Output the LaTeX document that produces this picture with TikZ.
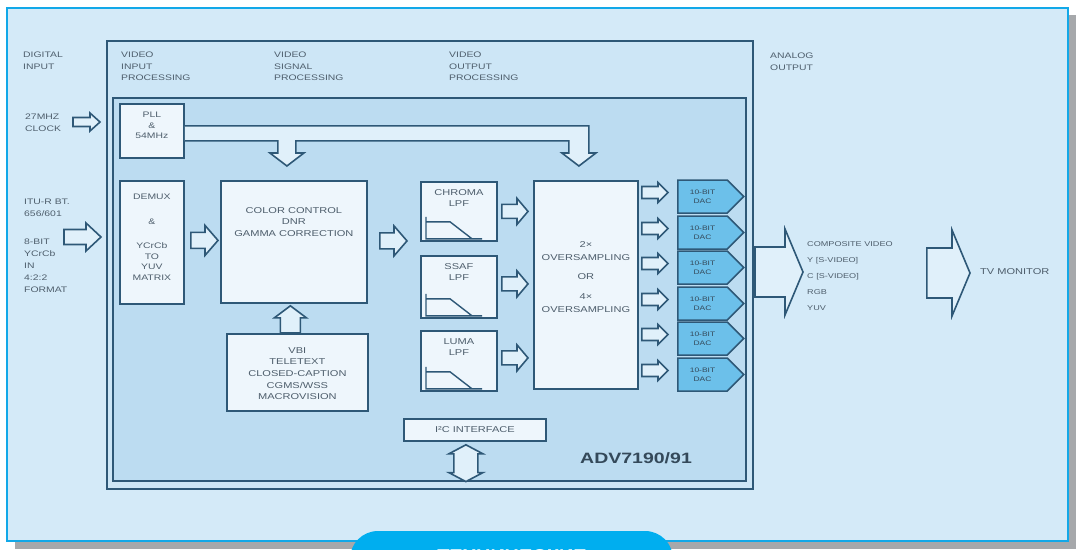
\documentclass[tikz,border=0pt]{standalone}
\usepackage{fontspec}
\setmainfont{Liberation Sans}[FakeStretch=1.3]
\newfontfamily\tabfont{Liberation Sans}
\usetikzlibrary{calc,shapes.symbols}
\definecolor{panel}{HTML}{D4EAF8}
\definecolor{chipbg}{HTML}{CDE6F6}
\definecolor{innerbg}{HTML}{BCDCF1}
\definecolor{boxfill}{HTML}{EEF6FC}
\definecolor{ln}{HTML}{2E5877}
\definecolor{txt}{HTML}{4E5E6C}
\definecolor{advc}{HTML}{34495A}
\definecolor{dacfill}{HTML}{6CC0EA}
\definecolor{cyanb}{HTML}{12A8E8}
\definecolor{tabc}{HTML}{00AEEF}
\definecolor{shadowg}{HTML}{A6A8AB}
\definecolor{arrfill}{HTML}{E0F0FA}
% right block arrow: start, tip, stem half, head half, head length (y taken from start)
\newcommand\rarr[5]{\filldraw[barrow] let \p1=#1, \p2=#2 in
  (\x1,\y1+#3) -- (\x2-#5,\y1+#3) -- (\x2-#5,\y1+#4) -- (\x2,\y1) -- (\x2-#5,\y1-#4) -- (\x2-#5,\y1-#3) -- (\x1,\y1-#3) -- cycle;}
% up block arrow: start (bottom), tip (top), x taken from start
\newcommand\uarr[5]{\filldraw[barrow] let \p1=#1, \p2=#2 in
  (\x1-#3,\y1) -- (\x1-#3,\y2-#5) -- (\x1-#4,\y2-#5) -- (\x1,\y2) -- (\x1+#4,\y2-#5) -- (\x1+#3,\y2-#5) -- (\x1+#3,\y1) -- cycle;}
% double vertical block arrow: top tip, bottom tip
\newcommand\udarr[5]{\filldraw[barrow] let \p1=#1, \p2=#2 in
  (\x1,\y1) -- (\x1+#4,\y1-#5) -- (\x1+#3,\y1-#5) -- (\x1+#3,\y2+#5) -- (\x1+#4,\y2+#5) -- (\x1,\y2) -- (\x1-#4,\y2+#5) -- (\x1-#3,\y2+#5) -- (\x1-#3,\y1-#5) -- (\x1-#4,\y1-#5) -- cycle;}
% low-pass response sketch inside a filter box
\newcommand\lpf[1]{\draw[ln,line width=1.4pt] let \p1=(#1.south west) in
  (\x1+6,\y1+25) -- (\x1+6,\y1+3) -- (\x1+62,\y1+3)
  (\x1+6,\y1+20) -- (\x1+30,\y1+20) -- (\x1+52,\y1+3);}
\begin{document}
\begin{tikzpicture}[x=1pt,y=-1pt,
  blk/.style={draw=ln,line width=1.8pt,fill=boxfill,anchor=north west,inner sep=0pt},
  lab/.style={text=txt,font=\fontsize{8}{11.5}\selectfont,align=left,anchor=north west,inner sep=0pt},
  btxt/.style={text=txt,font=\fontsize{8}{10.5}\selectfont,align=center,anchor=north,inner sep=0pt},
  barrow/.style={draw=ln,line width=1.6pt,fill=arrfill,line join=miter},
  dac/.style={signal,signal to=east,draw=ln,fill=dacfill,line width=1.5pt,
    minimum width=66pt,minimum height=33pt,inner sep=0pt,anchor=west,
    text=advc,font=\fontsize{6.5}{9}\selectfont,align=center}]
\useasboundingbox (0,0) rectangle (1076,549);
% page
\fill[shadowg] (15,15) rectangle (1076,549);
\filldraw[fill=panel,draw=cyanb,line width=2.5pt] (7,8) rectangle (1068,541);
\begin{scope}
  \clip (0,0) rectangle (1076,549);
  \fill[tabc,rounded corners=28pt] (350,531) rectangle (673,610);
  \node[anchor=north,inner sep=0pt,text=white,font=\tabfont\bfseries\fontsize{20}{20}\selectfont] (tab) at (512,549) {ТЕХНИЧЕСКИЕ};
\end{scope}
% chip outline and core
\node[draw=ln,line width=2pt,fill=chipbg,anchor=north west,minimum width=646pt,minimum height=448pt,inner sep=0pt] (chip) at (106,40) {};
\node[draw=ln,line width=1.6pt,fill=innerbg,anchor=north west,minimum width=633pt,minimum height=383pt,inner sep=0pt] (core) at (112,97) {};
% column labels
\node[lab] (dig) at (23,52) {DIGITAL\\INPUT};
\node[lab] (vip) at (121,52) {VIDEO\\INPUT\\PROCESSING};
\node[lab] (vsp) at (274,52) {VIDEO\\SIGNAL\\PROCESSING};
\node[lab] (vop) at (449,52) {VIDEO\\OUTPUT\\PROCESSING};
\node[lab] (ana) at (770,53) {ANALOG\\OUTPUT};
\node[lab] (clk) at (25,114) {27MHZ\\CLOCK};
\node[lab] (itu) at (24,199) {ITU-R BT.\\656/601};
\node[lab,font=\fontsize{8}{12}\selectfont] (fmt) at (24,239) {8-BIT\\YCrCb\\IN\\4:2:2\\FORMAT};
% blocks
\node[blk,minimum width=64pt,minimum height=54pt] (pll) at (119,103) {};
\node[btxt] (plltxt) at ($(pll.north)+(0,9)$) {PLL\\\&\\54MHz};
\node[blk,minimum width=64pt,minimum height=123pt] (demux) at (119,180) {};
\node[btxt] (demuxtxt) at ($(demux.north)+(0,14)$) {DEMUX\\[14pt]\&\\[14pt]YCrCb\\TO\\YUV\\MATRIX};
\node[blk,minimum width=146pt,minimum height=122pt] (color) at (220,180) {};
\node[btxt,font=\fontsize{8.5}{11.5}\selectfont] (colortxt) at ($(color.north)+(0,27)$) {COLOR CONTROL\\DNR\\GAMMA CORRECTION};
\node[blk,minimum width=141pt,minimum height=77pt] (vbi) at (226,333) {};
\node[btxt,font=\fontsize{8.5}{11.7}\selectfont] (vbitxt) at ($(vbi.north)+(0,14)$) {VBI\\TELETEXT\\CLOSED-CAPTION\\CGMS/WSS\\MACROVISION};
\node[blk,minimum width=76pt,minimum height=59pt] (chroma) at (420,181) {};
\node[btxt,font=\fontsize{8.5}{11}\selectfont] (chromatxt) at ($(chroma.north)+(0,8)$) {CHROMA\\LPF};
\node[blk,minimum width=76pt,minimum height=62pt] (ssaf) at (420,255) {};
\node[btxt,font=\fontsize{8.5}{11}\selectfont] (ssaftxt) at ($(ssaf.north)+(0,8)$) {SSAF\\LPF};
\node[blk,minimum width=76pt,minimum height=60pt] (luma) at (420,330) {};
\node[btxt,font=\fontsize{8.5}{11}\selectfont] (lumatxt) at ($(luma.north)+(0,8)$) {LUMA\\LPF};
\lpf{chroma}\lpf{ssaf}\lpf{luma}
\node[blk,minimum width=104pt,minimum height=208pt] (overs) at (533,180) {};
\node[text=txt,font=\fontsize{8.5}{13}\selectfont,align=center,inner sep=0pt] (overstxt) at ($(overs.center)+(0,-8)$) {2×\\OVERSAMPLING\\[6pt]OR\\[7pt]4×\\OVERSAMPLING};
\node[blk,minimum width=142pt,minimum height=22pt,font=\fontsize{8.5}{10}\selectfont,text=txt] (i2c) at (403,418) {I²C INTERFACE};
\foreach \yy [count=\i] in {180,216,251,287,322,358}{
  \node[dac] (dac\i) at (677,\yy+16.5) {10-BIT\\DAC};
  \rarr{($(overs.east |- dac\i.west)+(3,-4)$)}{($(dac\i.west)+(-9,0)$)}{6}{10}{10}
}
\node[anchor=north west,inner sep=0pt,text=advc,font=\bfseries\fontsize{15}{15}\selectfont] (adv) at (580,452) {ADV7190/91};
% outputs
\node[anchor=west,inner sep=0pt,text=txt,font=\fontsize{7}{16}\selectfont,align=left] (outtxt) at (807,276) {COMPOSITE VIDEO\\Y [S-VIDEO]\\C [S-VIDEO]\\RGB\\YUV};
\node[anchor=west,inner sep=0pt,text=txt,font=\fontsize{8.5}{10}\selectfont] (tv) at (980,272) {TV MONITOR};
\coordinate (clkin) at (73,122);
\coordinate (ituin) at (64,237);
\coordinate (aout) at (755,272);
% connectors
\rarr{(clkin)}{($(chip.west)+(-6,0)$)}{4.5}{9}{10}
\rarr{(ituin)}{($(chip.west)+(-5,0)$)}{7.5}{14}{15}
\rarr{($(demux.east)+(6,-2)$)}{($(color.west)+(-2,0)$)}{8}{15}{13}
\rarr{($(color.east)+(12,-1)$)}{($(chroma.west)+(-13,0)$)}{8}{15}{13}
\rarr{($(chroma.east)+(4,0)$)}{($(overs.west)+(-5,0)$)}{7}{13}{11}
\rarr{($(ssaf.east)+(4,-3)$)}{($(overs.west)+(-5,0)$)}{7}{13}{11}
\rarr{($(luma.east)+(4,-3)$)}{($(overs.west)+(-5,0)$)}{7}{13}{11}
\uarr{($(vbi.north)+(-7,0)$)}{($(color.south)+(0,2)$)}{10}{16}{12}
\udarr{($(i2c.south)+(-9,3)$)}{($(i2c.south |- core.south)+(-9,0)$)}{12}{17}{9}
\rarr{(aout)}{($(outtxt.west)+(-4,0)$)}{25}{43}{18}
\rarr{($(outtxt.east)+(34,-3)$)}{($(tv.west)+(-10,0)$)}{25}{43}{18}
% clock bus from PLL
\filldraw[barrow] let \p1=(pll.east), \p2=(color.north), \p3=(overs.north) in
  (\x1,\y1+5) -- (\x3+3,\y1+5) -- (\x3+3,\y2+27) -- (\x3+10,\y2+27) -- (\x3-7,\y2+14)
  -- (\x3-24,\y2+27) -- (\x3-17,\y2+27) -- (\x3-17,\y1-10) -- (\x2+2,\y1-10)
  -- (\x2+2,\y2+27) -- (\x2+10,\y2+27) -- (\x2-7,\y2+14) -- (\x2-24,\y2+27)
  -- (\x2-16,\y2+27) -- (\x2-16,\y1-10) -- (\x1,\y1-10);
\end{tikzpicture}
\end{document}
